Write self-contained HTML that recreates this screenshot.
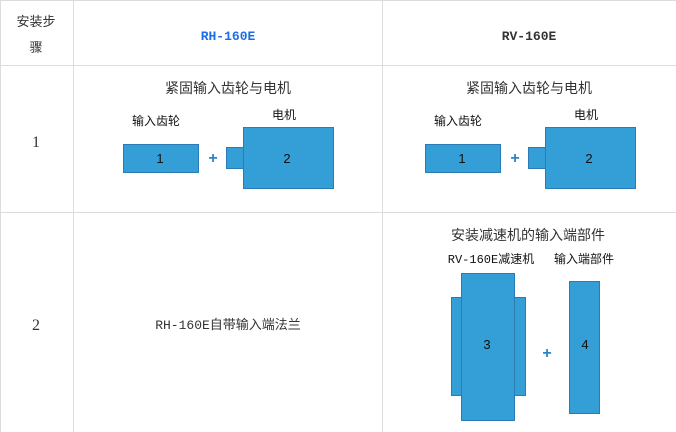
<!DOCTYPE html>
<html><head><meta charset="utf-8"><style>
html,body{margin:0;padding:0;background:#fff;}
svg{display:block;}
text{font-family:"Liberation Sans","Noto Sans CJK SC",sans-serif;}
.m{font-family:"Liberation Mono","Noto Sans CJK SC",monospace;}
.s{font-family:"Liberation Serif","Noto Serif CJK SC",serif;}
</style></head><body>
<svg width="676" height="432" viewBox="0 0 676 432" xmlns="http://www.w3.org/2000/svg">
<g stroke="#dcdcdc" stroke-width="1" fill="none">
<line x1="0" y1="0.5" x2="676" y2="0.5"/>
<line x1="0" y1="65.5" x2="676" y2="65.5"/>
<line x1="0" y1="212.5" x2="676" y2="212.5"/>
<line x1="0.5" y1="0" x2="0.5" y2="432"/>
<line x1="73.5" y1="0" x2="73.5" y2="432"/>
<line x1="382.5" y1="0" x2="382.5" y2="432"/>
</g>
<g font-size="13" fill="#333" text-anchor="middle">
<text x="36" y="26">安装步</text>
<text x="36" y="52">骤</text>
<text x="36" y="147" class="s" font-size="16">1</text>
<text x="36" y="330" class="s" font-size="16">2</text>
</g>
<text x="228" y="40" class="m" font-size="13" font-weight="bold" fill="#1a6ee8" text-anchor="middle">RH-160E</text>
<text x="529" y="40" class="m" font-size="13" font-weight="bold" fill="#333" text-anchor="middle">RV-160E</text>
<g font-size="14" fill="#333" text-anchor="middle">
<text x="228" y="93">紧固输入齿轮与电机</text>
<text x="529" y="93">紧固输入齿轮与电机</text>
<text x="528" y="240">安装减速机的输入端部件</text>
</g>
<text x="228" y="329" font-size="13" fill="#333" text-anchor="middle"><tspan class="m">RH-160E</tspan>自带输入端法兰</text>
<g font-size="12" fill="#111" text-anchor="middle">
<text x="156" y="125">输入齿轮</text>
<text x="284" y="119">电机</text>
<text x="458" y="125">输入齿轮</text>
<text x="586" y="119">电机</text>
<text x="491" y="263"><tspan class="m">RV-160E</tspan>减速机</text>
<text x="584" y="263">输入端部件</text>
</g>
<g fill="#349fd6" stroke="#2b7bb5" stroke-width="1">
<rect x="123.5" y="144.5" width="75" height="28"/>
<rect x="226.5" y="147.5" width="17" height="21"/>
<rect x="243.5" y="127.5" width="90" height="61"/>
<rect x="425.5" y="144.5" width="75" height="28"/>
<rect x="528.5" y="147.5" width="17" height="21"/>
<rect x="545.5" y="127.5" width="90" height="61"/>
<rect x="451.5" y="297.5" width="10" height="98"/>
<rect x="514.5" y="297.5" width="11" height="98"/>
<rect x="461.5" y="273.5" width="53" height="147"/>
<rect x="569.5" y="281.5" width="30" height="132"/>
</g>
<g font-size="13" fill="#111" text-anchor="middle">
<text x="160" y="163">1</text>
<text x="287" y="163">2</text>
<text x="462" y="163">1</text>
<text x="589" y="163">2</text>
<text x="487" y="349">3</text>
<text x="585" y="349">4</text>
</g>
<g font-size="16" font-weight="bold" fill="#2b86c5" text-anchor="middle">
<text x="213" y="163">+</text>
<text x="515" y="163">+</text>
<text x="547" y="358">+</text>
</g>
</svg>
</body></html>
